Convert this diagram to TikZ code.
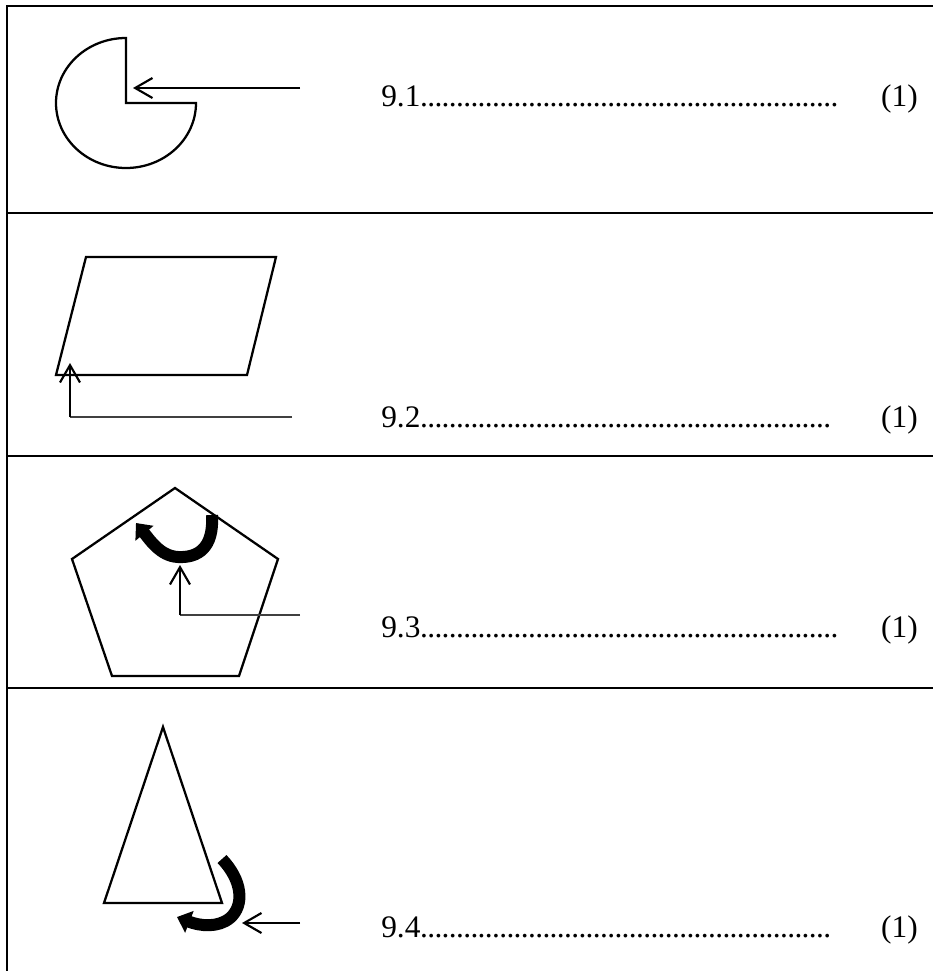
\documentclass[tikz,border=0pt]{standalone}
\usepackage{fontspec}
\setmainfont{Liberation Serif}
\usetikzlibrary{arrows.meta}

\begin{document}
\begin{tikzpicture}[x = 0.75pt, y = -0.75pt,
	frame/.style = {line width = 2.2pt},
	figline/.style = {line width = 1.7pt},
	pointer/.style = {line width = 1.6pt, -{Straight Barb[length = 13pt, width = 15pt]}},
	leader/.style = {line width = 1.3pt, black!75},
	turn/.style = {line width = 9pt, -{Triangle[length = 10pt, width = 17pt]}},
	answer/.style = {anchor = base west, inner sep = 0pt, font = \fontsize{23.5}{28}\selectfont},
	score/.style = {anchor = base east, inner sep = 0pt, font = \fontsize{23.5}{28}\selectfont}]

	\useasboundingbox (0, 0) rectangle (933, 971);

	% Answer lines with marks
	
	\def\answerdots#1{\hbox to #1{\leaders\hbox to 5.4pt{\hss.\hss}\hfill}}
	
	\foreach \n/\y/\w in {1/106/316pt, 2/427/313pt, 3/637/316pt, 4/937/313pt}
		{
		\node [answer] (q\n) at (381, \y) {9.\n\answerdots{\w}};
		\node [score] (s\n) at (918, \y) {(1)};
		}

	% Table frame
	
	\draw [frame] (7, 971) -- (7, 6) -- (933, 6);
	\foreach \y in {213, 456, 688}
		\draw [frame] (7, \y) -- (933, \y);

	% 9.1 Circle with a quarter cut out
	
	\coordinate (c1) at (126, 103);
	\draw [figline] (c1) -- (126, 38) arc [start angle = -90, end angle = -360, x radius = 70, y radius = 65] -- cycle;
	\coordinate (p1a) at (300, 88);
	\coordinate (p1b) at (133, 88);
	\draw [pointer] (p1a) -- (p1b);

	% 9.2 Parallelogram
	
	\draw [figline] (86, 257) -- (276, 257) -- (247, 375) -- (56, 375) -- cycle;
	\coordinate (p2a) at (292, 417);
	\coordinate (p2k) at (70, 417);
	\coordinate (p2b) at (70, 363);
	\draw [leader] (p2a) -- (p2k);
	\draw [pointer] (p2k) -- (p2b);

	% 9.3 Pentagon with turning arrow
	
	\draw [figline] (175, 488) -- (278, 559) -- (239, 676) -- (112, 676) -- (72, 559) -- cycle;
	\draw [turn] (212, 515) .. controls (214, 548) and (198, 558) .. (178, 557) .. controls (160, 556) and (150, 540) .. (136, 523);
	\coordinate (p3a) at (300, 615);
	\coordinate (p3k) at (180, 615);
	\coordinate (p3b) at (180, 565);
	\draw [leader] (p3a) -- (p3k);
	\draw [pointer] (p3k) -- (p3b);

	% 9.4 Triangle with turning arrow
	
	\draw [figline] (163, 727) -- (222, 903) -- (104, 903) -- cycle;
	\draw [turn] (222, 859) .. controls (242, 880) and (245, 905) .. (230, 918) .. controls (218, 928) and (200, 926) .. (177, 917);
	\coordinate (p4a) at (300, 923);
	\coordinate (p4b) at (242, 923);
	\draw [pointer] (p4a) -- (p4b);

\end{tikzpicture}
\end{document}
